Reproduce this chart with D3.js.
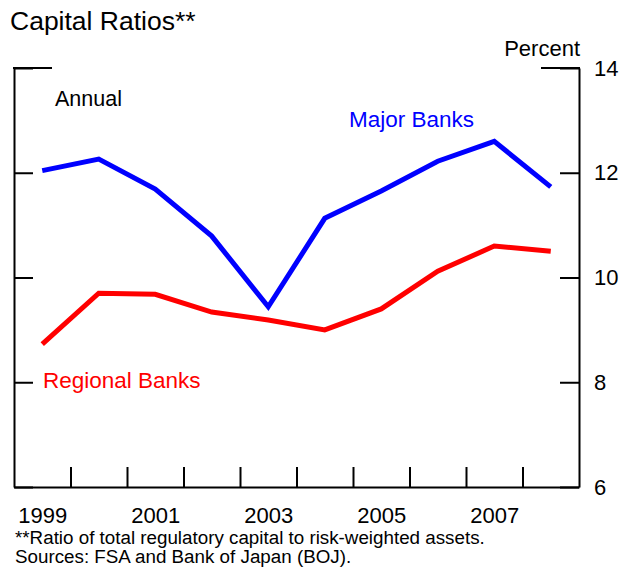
<!DOCTYPE html>
<html>
<head>
<meta charset="utf-8">
<script src="https://cdn.jsdelivr.net/npm/d3@7"></script>
<style>
  html, body { margin: 0; padding: 0; background: #fff; }
  svg { display: block; font-family: "Liberation Sans", Arial, Helvetica, sans-serif; }
</style>
</head>
<body>
<script>
const years = [1999, 2000, 2001, 2002, 2003, 2004, 2005, 2006, 2007, 2008];
const majorBanks = [12.04, 12.26, 11.69, 10.79, 9.44, 11.13, 11.65, 12.22, 12.60, 11.73];
const regionalBanks = [8.73, 9.70, 9.68, 9.34, 9.19, 9.00, 9.40, 10.12, 10.60, 10.50];
const yTicks = [6, 8, 10, 12, 14];
const xLabelYears = [1999, 2001, 2003, 2005, 2007];
const xTickBoundaries = [2000, 2001, 2002, 2003, 2004, 2005, 2006, 2007, 2008];

const W = 631, H = 567;
const pLeft = 14, pRight = 579, pTop = 68, pBottom = 487;

const svg = d3.select("body").append("svg").attr("width", W).attr("height", H);

const x = d3.scaleLinear().domain([1999, 2009]).range([pLeft, pRight]);
const y = d3.scaleLinear().domain([6, 14]).range([pBottom, pTop]);

// Title
svg.append("text").attr("x", 10).attr("y", 30).attr("font-size", 26.5).attr("fill", "#000").text("Capital Ratios**");

// Right axis
const rAxis = svg.append("g").attr("transform", `translate(${pRight},0)`)
  .call(d3.axisRight(y).tickValues(yTicks).tickSize(-19).tickSizeOuter(0).tickPadding(15).tickFormat(d3.format("d")));
// Left axis
const lAxis = svg.append("g").attr("transform", `translate(${pLeft},0)`)
  .call(d3.axisLeft(y).tickValues(yTicks).tickSize(-19).tickSizeOuter(0).tickFormat(""));
// Bottom axis (ticks at year boundaries)
const bAxis = svg.append("g").attr("transform", `translate(0,${pBottom})`)
  .call(d3.axisBottom(x).tickValues(xTickBoundaries).tickSize(-20).tickSizeOuter(0).tickFormat(""));
// Bottom labels
const bLab = svg.append("g").attr("transform", `translate(0,${pBottom})`)
  .call(d3.axisBottom(x).tickValues(xLabelYears.map(v => v + 0.5)).tickSize(0).tickFormat(d => String(Math.floor(d))));
bLab.select(".domain").remove();
bLab.selectAll("text").attr("y", 36).attr("dy", null);

[rAxis, lAxis, bAxis, bLab].forEach(g => {
  g.attr("font-family", null).attr("font-size", null);
  g.selectAll(".domain").attr("stroke", "#000").attr("stroke-width", 2);
  g.selectAll(".tick line").attr("stroke", "#000").attr("stroke-width", 2);
  g.selectAll("text").attr("fill", "#000").attr("font-size", 22);
});

// Top partial segments (14 ticks)
svg.append("line").attr("x1", pLeft - 1).attr("x2", pLeft + 38).attr("y1", y(14)).attr("y2", y(14))
  .attr("stroke", "#000").attr("stroke-width", 2);
svg.append("line").attr("x1", pRight - 38).attr("x2", pRight + 1).attr("y1", y(14)).attr("y2", y(14))
  .attr("stroke", "#000").attr("stroke-width", 2);

// Percent label
svg.append("text").attr("x", 580).attr("y", 56).attr("text-anchor", "end").attr("font-size", 22).text("Percent");

// Lines
const line = d3.line().x((d, i) => x(years[i] + 0.5)).y(d => y(d));
svg.append("path").datum(majorBanks).attr("d", line).attr("fill", "none").attr("stroke", "#0000ff").attr("stroke-width", 5);
svg.append("path").datum(regionalBanks).attr("d", line).attr("fill", "none").attr("stroke", "#ff0000").attr("stroke-width", 5);

// Labels
svg.append("text").attr("x", 55).attr("y", 106).attr("font-size", 21.5).attr("fill", "#000").text("Annual");
svg.append("text").attr("x", 349).attr("y", 127).attr("font-size", 22.5).attr("fill", "#0000ff").text("Major Banks");
svg.append("text").attr("x", 43).attr("y", 388).attr("font-size", 22.5).attr("fill", "#ff0000").text("Regional Banks");

// Footnotes
svg.append("text").attr("x", 15).attr("y", 544).attr("font-size", 18.8).attr("fill", "#000").text("**Ratio of total regulatory capital to risk-weighted assets.");
svg.append("text").attr("x", 15).attr("y", 563).attr("font-size", 18.8).attr("fill", "#000").text("Sources: FSA and Bank of Japan (BOJ).");
</script>
</body>
</html>
